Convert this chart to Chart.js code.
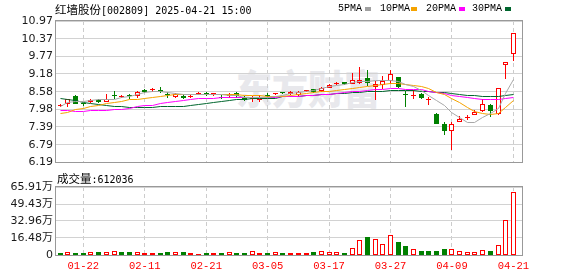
<!DOCTYPE html>
<html>
<head>
<meta charset="utf-8">
<script src="https://cdn.jsdelivr.net/npm/chart.js@4.4.1/dist/chart.umd.min.js"></script>
<style>
  body { margin: 0; background: #fff; }
  #wrap { position: relative; width: 578px; height: 276px; overflow: hidden; }
  canvas { position: absolute; left: 0; }
  .cjk { font-family: "Noto Sans CJK SC", sans-serif; font-size: 11.5px; }
  .mono { font-family: "DejaVu Sans Mono", monospace; font-size: 10px; }
  #title, #vtitle { position: absolute; color: #000; white-space: nowrap; line-height: 14px; }
  #title { left: 55px; top: 2px; }
  #vtitle { left: 57px; top: 171px; }
  .lg { position: absolute; top: 3px; font-family: "Liberation Mono", monospace; font-size: 10px; line-height: 12px; color: #000; }
  .sq { position: absolute; top: 7px; width: 6px; height: 4px; }
  #wm { position: absolute; left: 236px; top: 64px; font-family: "Noto Sans CJK SC", sans-serif; font-weight: 900;
        font-size: 36px; line-height: 44px; color: #e8e8ec; transform: scaleY(1.1); white-space: nowrap; }
</style>
</head>
<body>
<div id="wrap">
  <div id="wm">东方财富</div>
  <canvas id="k" width="578" height="172" style="top:0"></canvas>
  <canvas id="v" width="578" height="104" style="top:172px"></canvas>
  <div id="title"><span class="cjk">红墙股份</span><span class="mono">[002809] 2025-04-21 15:00</span></div>
  <div id="vtitle"><span class="cjk">成交量</span><span class="mono">:612036</span></div>
  <span class="lg" style="left:338px">5PMA</span><span class="sq" style="left:365px;background:#a0a0a0"></span>
  <span class="lg" style="left:380px">10PMA</span><span class="sq" style="left:411px;background:#f5a300"></span>
  <span class="lg" style="left:426px">20PMA</span><span class="sq" style="left:459px;background:#ff00ff"></span>
  <span class="lg" style="left:472px">30PMA</span><span class="sq" style="left:505px;background:#00662e"></span>
</div>
<script>
var dates = ['01-17','01-20','01-21','01-22','01-23','01-24','01-27','02-05','02-06','02-07',
  '02-10','02-11','02-12','02-13','02-14','02-17','02-18','02-19','02-20','02-21',
  '02-24','02-25','02-26','02-27','02-28','03-03','03-04','03-05','03-06','03-07',
  '03-10','03-11','03-12','03-13','03-14','03-17','03-18','03-19','03-20','03-21',
  '03-24','03-25','03-26','03-27','03-28','03-31','04-01','04-02','04-03','04-07',
  '04-08','04-09','04-10','04-11','04-14','04-15','04-16','04-17','04-18','04-21'];
var xLabels = ['01-22','02-11','02-21','03-05','03-17','03-27','04-09','04-21'];

var opens = [8.10,8.15,8.45,8.16,8.23,8.30,8.23,8.44,8.40,8.43,
  8.42,8.65,8.63,8.64,8.49,8.40,8.45,8.41,8.47,8.51,
  8.49,8.40,8.43,8.54,8.39,8.34,8.30,8.44,8.50,8.53,
  8.49,8.47,8.60,8.66,8.60,8.72,8.85,8.91,8.85,8.87,
  9.05,8.74,8.79,8.93,9.07,8.47,8.44,8.49,8.31,7.83,
  7.48,7.24,7.57,7.69,7.80,7.93,8.12,7.84,9.47,9.87];
var highs = [8.18,8.35,8.47,8.20,8.35,8.35,8.50,8.61,8.48,8.49,
  8.61,8.67,8.70,8.75,8.56,8.55,8.50,8.47,8.57,8.56,
  8.54,8.46,8.53,8.57,8.44,8.42,8.46,8.52,8.55,8.56,
  8.59,8.60,8.65,8.67,8.74,8.84,8.91,8.92,9.22,9.43,
  9.32,8.93,9.12,9.31,9.09,8.59,8.64,8.52,8.39,7.86,
  7.57,7.55,7.77,7.78,7.97,8.33,8.16,8.72,9.59,10.55];
var lows = [8.06,8.07,8.17,8.10,8.21,8.20,8.22,8.35,8.36,8.35,
  8.36,8.55,8.58,8.55,8.37,8.36,8.33,8.36,8.46,8.44,
  8.44,8.34,8.38,8.38,8.27,8.24,8.24,8.36,8.47,8.49,
  8.48,8.45,8.56,8.54,8.56,8.69,8.79,8.80,8.84,8.84,
  8.76,8.31,8.68,8.85,8.72,8.06,8.35,8.33,8.13,7.49,
  7.10,6.60,7.56,7.62,7.79,7.90,7.73,7.80,9.02,9.62];
var closes = [8.11,8.33,8.18,8.15,8.30,8.23,8.35,8.43,8.41,8.42,
  8.56,8.58,8.64,8.57,8.48,8.50,8.36,8.42,8.55,8.50,
  8.50,8.37,8.51,8.45,8.30,8.35,8.40,8.43,8.51,8.52,
  8.57,8.56,8.61,8.56,8.70,8.79,8.86,8.83,8.96,8.98,
  8.86,8.84,8.95,9.18,8.73,8.46,8.45,8.36,8.32,7.50,
  7.26,7.48,7.66,7.70,7.91,8.17,7.93,8.72,9.59,10.55];

var volumes = [19400,26000,19400,19400,26000,29000,26000,36000,29000,29000,
  26000,19400,19400,19400,29000,26000,29000,19400,10000,19400,
  19400,19400,26000,19400,19400,36000,19400,19400,26000,19400,
  19400,19400,19400,29000,36000,26000,26000,19400,65000,142000,
  174000,152000,104000,191000,126000,87000,55000,39000,39000,39000,
  58000,55000,36000,26000,26000,45000,39000,94000,339000,612036];
// 1 = red bar, 0 = green bar, as drawn in the volume panel
var volUp = [0,1,0,0,1,0,1,1,0,0, 1,1,1,0,0,1,0,1,1,0,
  1,0,1,0,0,1,1,0,1,0, 1,1,1,0,1,1,1,0,1,1,
  0,1,1,1,0,0,1,0,0,0, 0,1,1,1,1,1,0,1,1,1];

var ma5 = [8.08,8.21,8.25,8.26,8.28,8.30,8.31,8.33,8.38,8.43,
  8.50,8.56,8.57,8.57,8.55,8.52,8.50,8.49,8.48,8.48,
  8.48,8.48,8.46,8.44,8.40,8.38,8.38,8.40,8.42,8.46,
  8.51,8.55,8.60,8.63,8.70,8.75,8.79,8.84,8.88,8.91,
  8.94,8.95,8.95,8.95,8.91,8.83,8.75,8.63,8.46,8.27,
  8.10,7.88,7.70,7.55,7.55,7.70,7.83,8.02,8.51,8.99];
var ma10 = [7.83,7.88,7.97,8.02,8.07,8.12,8.18,8.22,8.26,8.30,
  8.33,8.36,8.39,8.41,8.44,8.47,8.48,8.49,8.50,8.50,
  8.50,8.49,8.48,8.47,8.46,8.45,8.44,8.43,8.42,8.43,
  8.45,8.48,8.51,8.55,8.58,8.59,8.62,8.66,8.69,8.71,
  8.74,8.78,8.83,8.86,8.86,8.84,8.79,8.75,8.68,8.56,
  8.48,8.35,8.20,8.04,7.90,7.85,7.82,7.84,8.05,8.28];
var ma20 = [7.95,7.93,7.91,7.92,7.93,7.93,7.95,7.97,7.98,8.02,
  8.07,8.10,8.13,8.17,8.20,8.25,8.28,8.31,8.34,8.35,
  8.36,8.37,8.37,8.38,8.38,8.38,8.39,8.40,8.40,8.41,
  8.42,8.43,8.45,8.46,8.48,8.50,8.51,8.55,8.58,8.60,
  8.63,8.65,8.66,8.68,8.68,8.67,8.66,8.64,8.60,8.56,
  8.51,8.46,8.41,8.37,8.34,8.32,8.32,8.33,8.36,8.39];
var ma30 = [8.35,8.33,8.27,8.22,8.18,8.15,8.12,8.08,8.07,8.06,
  8.06,8.06,8.06,8.07,8.07,8.08,8.09,8.12,8.15,8.18,
  8.23,8.25,8.29,8.30,8.33,8.35,8.35,8.35,8.36,8.41,
  8.41,8.43,8.45,8.46,8.48,8.50,8.51,8.53,8.55,8.56,
  8.58,8.60,8.60,8.61,8.61,8.61,8.61,8.60,8.59,8.56,
  8.55,8.51,8.48,8.46,8.45,8.43,8.42,8.42,8.45,8.48];

var priceTicks = [6.19,6.79,7.39,7.98,8.58,9.18,9.77,10.37,10.97];
var volTicks = [0,164800,329600,494300,659100];

var RED = '#ff0000', GREEN = '#008000';
var GRID = '#d2d2d2', VGRID = '#cccccc', FRAME = '#999999';
var TICKFONT = {family: "'DejaVu Sans', 'Noto Sans CJK SC'", size: 11};
var XMIN = -0.555, XMAX = 60.12;

function isUp(i) { return closes[i] >= opens[i]; }
function tickIdx() {
  return xLabels.map(function (d) { return {value: dates.indexOf(d)}; });
}

var frame = {
  id: 'frame',
  afterDraw: function (chart) {
    var a = chart.chartArea, ctx = chart.ctx;
    ctx.save();
    ctx.strokeStyle = FRAME;
    ctx.lineWidth = 1;
    ctx.strokeRect(Math.round(a.left) - 0.5, Math.round(a.top) - 0.5,
      Math.round(a.right - a.left) + 1, Math.round(a.bottom - a.top) + 1);
    ctx.restore();
  }
};

// snap the computed element positions to the pixel grid so 1px strokes stay crisp
var snap = {
  id: 'snap',
  afterDatasetsUpdate: function (chart) {
    chart.data.datasets.forEach(function (ds, di) {
      var meta = chart.getDatasetMeta(di);
      meta.data.forEach(function (el) {
        if (meta.type === 'bar') {
          el.x = Math.floor(el.x) + 0.5;
          var y = Math.round(el.y), b = Math.round(el.base);
          if (y === b) y = b - 1;
          el.y = y; el.base = b;
        } else {
          el.x = Math.floor(el.x) + 0.5;
          el.y = Math.floor(el.y) + 0.5;
        }
      });
    });
  }
};

function maLine(values, color) {
  return {
    type: 'line', order: 0,
    data: values.map(function (v, i) { return {x: i, y: v}; }),
    borderColor: color, borderWidth: 1, pointRadius: 0, tension: 0, fill: false
  };
}

function xScale(showLabels) {
  return {
    type: 'linear', min: XMIN, max: XMAX, offset: false,
    afterBuildTicks: function (s) { s.ticks = tickIdx(); },
    afterFit: function (s) { s.height = showLabels ? 21 : 0; },
    ticks: {
      display: showLabels, autoSkip: false, maxRotation: 0, padding: 5, color: RED,
      font: {family: "'Liberation Mono', monospace", size: 10.5},
      callback: function (v) { return dates[v]; }
    },
    grid: {color: VGRID, drawTicks: false, offset: false},
    border: {display: false, dash: [4, 3]}
  };
}

// candles
new Chart(document.getElementById('k'), {
  type: 'bar',
  data: {
    datasets: [
      maLine(ma5, '#a8a8a8'),
      maLine(ma10, '#f5a300'),
      maLine(ma20, '#ff00ff'),
      maLine(ma30, '#00662e'),
      {
        type: 'bar', order: 1, grouped: false,
        data: dates.map(function (d, i) { return {x: i, y: [opens[i], closes[i]]}; }),
        barThickness: 5, minBarLength: 1, borderWidth: 1, borderSkipped: false, inflateAmount: 0,
        backgroundColor: function (c) { return isUp(c.dataIndex) ? '#ffffff' : GREEN; },
        borderColor: function (c) { return isUp(c.dataIndex) ? RED : GREEN; }
      },
      {
        type: 'bar', order: 2, grouped: false,
        data: dates.map(function (d, i) { return {x: i, y: [lows[i], highs[i]]}; }),
        barThickness: 1, borderWidth: 0, inflateAmount: 0,
        backgroundColor: function (c) { return isUp(c.dataIndex) ? RED : GREEN; }
      }
    ]
  },
  options: {
    responsive: false, animation: false, devicePixelRatio: 1,
    layout: {padding: {top: 21, right: 56, bottom: 7, left: 0}},
    plugins: {legend: {display: false}, tooltip: {enabled: false}},
    scales: {
      x: xScale(false),
      y: {
        min: 6.19, max: 10.97,
        afterBuildTicks: function (s) { s.ticks = priceTicks.map(function (v) { return {value: v}; }); },
        afterFit: function (s) { s.width = 56; },
        ticks: {padding: 3, color: '#1a1a1a', font: TICKFONT,
          callback: function (v) { return v.toFixed(2); }},
        grid: {color: GRID, drawTicks: false},
        border: {display: false}
      }
    }
  },
  plugins: [snap, frame]
});

// volume
new Chart(document.getElementById('v'), {
  type: 'bar',
  data: {
    datasets: [{
      grouped: false,
      data: dates.map(function (d, i) { return {x: i, y: volumes[i]}; }),
      barThickness: 5, minBarLength: 1, borderWidth: 1, borderSkipped: false, inflateAmount: 0,
      backgroundColor: function (c) { return volUp[c.dataIndex] ? '#ffffff' : GREEN; },
      borderColor: function (c) { return volUp[c.dataIndex] ? RED : GREEN; }
    }]
  },
  options: {
    responsive: false, animation: false, devicePixelRatio: 1,
    layout: {padding: {top: 15, right: 56, bottom: 0, left: 0}},
    plugins: {legend: {display: false}, tooltip: {enabled: false}},
    scales: {
      x: xScale(true),
      y: {
        min: 0, max: 659100,
        afterBuildTicks: function (s) { s.ticks = volTicks.map(function (v) { return {value: v}; }); },
        afterFit: function (s) { s.width = 56; },
        ticks: {padding: 3, color: '#1a1a1a', font: TICKFONT,
          callback: function (v) { return v === 0 ? '0' : (v / 10000).toFixed(2) + '万'; }},
        grid: {color: GRID, drawTicks: false},
        border: {display: false}
      }
    }
  },
  plugins: [snap, frame]
});
</script>
</body>
</html>
